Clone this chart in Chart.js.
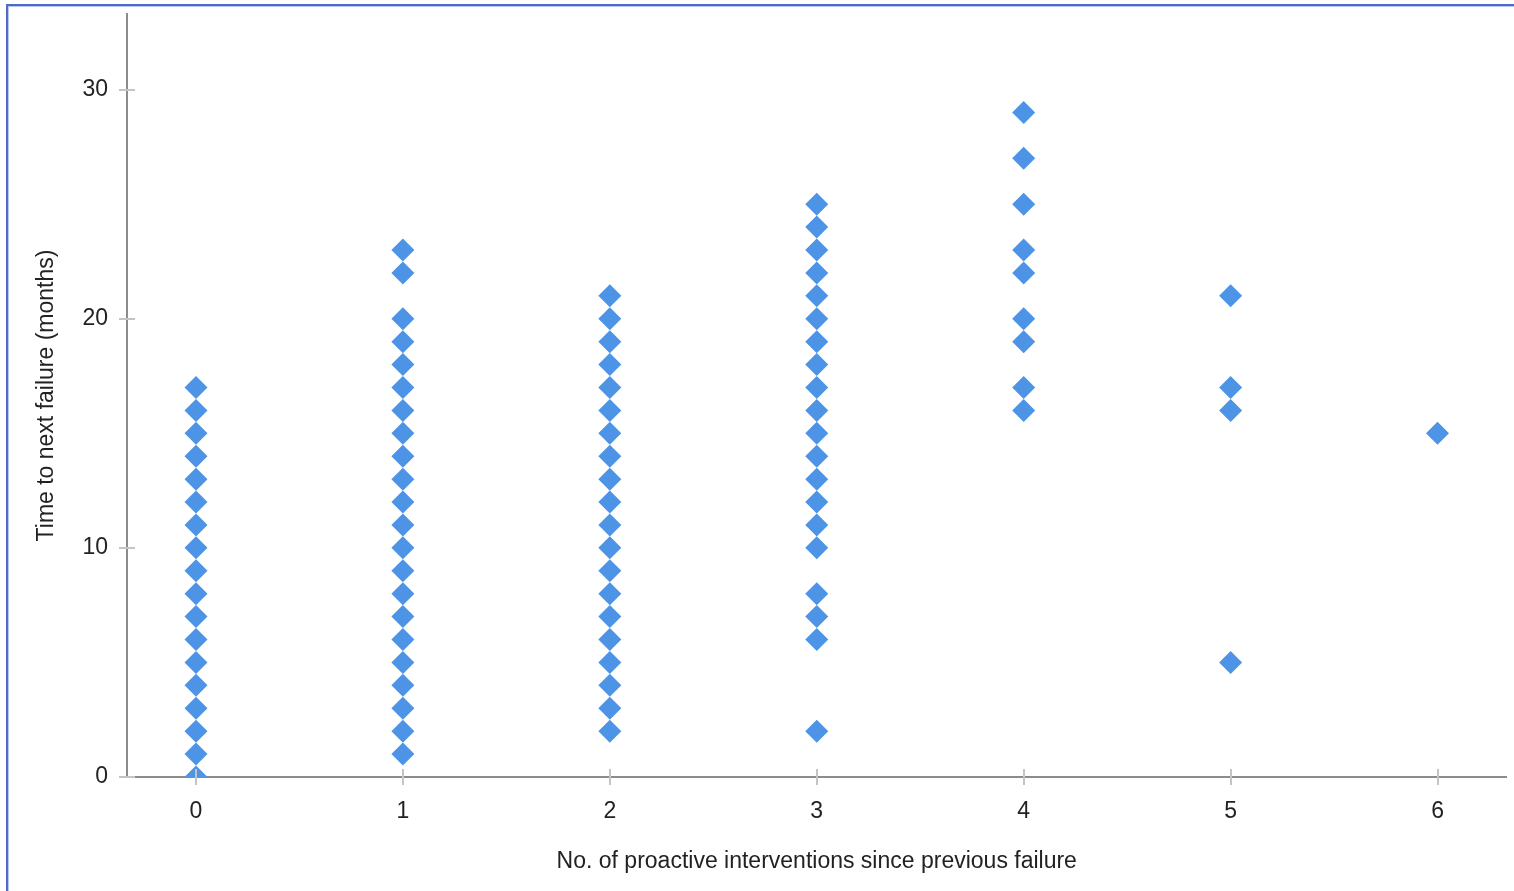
<!DOCTYPE html>
<html>
<head>
<meta charset="utf-8">
<script src="https://cdn.jsdelivr.net/npm/chart.js@4/dist/chart.umd.min.js"></script>
<style>
    html, body { margin: 0; padding: 0; background: #fff; overflow: hidden; }
    .frame {
        position: absolute; left: 6px; top: 4px; width: 1506px; height: 885px;
        border-top: 2px solid #4f6cc4; border-left: 2px solid #4f6cc4;
        box-shadow: inset 1px 1px 0 #b9c6ec;
    }
    .wrap { position: absolute; left: 0; top: 0; width: 1518px; height: 891px; }
</style>
</head>
<body>
<div class="frame"></div>
<div class="wrap"><canvas id="scatterChart"></canvas></div>
<script>
// Interventions since previous failure (x) and observed months to next failure (y)
const interventions = [0, 1, 2, 3, 4, 5, 6];
const monthsAt0 = [0, 1, 2, 3, 4, 5, 6, 7, 8, 9, 10, 11, 12, 13, 14, 15, 16, 17];
const monthsAt1 = [1, 2, 3, 4, 5, 6, 7, 8, 9, 10, 11, 12, 13, 14, 15, 16, 17, 18, 19, 20, 22, 23];
const monthsAt2 = [2, 3, 4, 5, 6, 7, 8, 9, 10, 11, 12, 13, 14, 15, 16, 17, 18, 19, 20, 21];
const monthsAt3 = [2, 6, 7, 8, 10, 11, 12, 13, 14, 15, 16, 17, 18, 19, 20, 21, 22, 23, 24, 25];
const monthsAt4 = [16, 17, 19, 20, 22, 23, 25, 27, 29];
const monthsAt5 = [5, 16, 17, 21];
const monthsAt6 = [15];
const yTicks = [0, 10, 20, 30];

const monthsByGroup = [monthsAt0, monthsAt1, monthsAt2, monthsAt3, monthsAt4, monthsAt5, monthsAt6];
const points = [];
interventions.forEach((x, i) => {
    monthsByGroup[i].forEach(y => points.push({ x: x, y: y }));
});

const FONT = '"Liberation Sans", Arial, sans-serif';

// small tick marks that cross the axis line, like the original
const crossTicks = {
    id: 'crossTicks',
    afterDraw(chart) {
        const { ctx, chartArea, scales } = chart;
        ctx.save();
        ctx.strokeStyle = '#c4c4c4';
        ctx.lineWidth = 2;
        interventions.forEach(v => {
            const px = Math.round(scales.x.getPixelForValue(v));
            ctx.beginPath();
            ctx.moveTo(px, chartArea.bottom - 8);
            ctx.lineTo(px, chartArea.bottom + 8);
            ctx.stroke();
        });
        yTicks.forEach(v => {
            const py = Math.round(scales.y.getPixelForValue(v));
            ctx.beginPath();
            ctx.moveTo(chartArea.left - 8, py);
            ctx.lineTo(chartArea.left + 8, py);
            ctx.stroke();
        });
        ctx.restore();
    }
};

new Chart(document.getElementById('scatterChart'), {
    type: 'scatter',
    data: {
        datasets: [{
            data: points,
            pointStyle: 'rectRot',
            pointRadius: 11.5,
            pointHoverRadius: 11.5,
            backgroundColor: '#4d94e6',
            borderColor: '#4d94e6',
            borderWidth: 0,
            clip: 0
        }]
    },
    options: {
        responsive: true,
        maintainAspectRatio: false,
        animation: false,
        layout: { padding: { left: 0, top: 14, right: 8, bottom: 0 } },
        plugins: {
            legend: { display: false },
            tooltip: { enabled: false }
        },
        scales: {
            x: {
                type: 'linear',
                min: -1 / 3,
                max: 6 + 1 / 3,
                afterFit: s => { s.height = 114; s.paddingLeft = 0; s.paddingRight = 0; },
                afterBuildTicks: s => { s.ticks = interventions.map(v => ({ value: v })); },
                grid: { display: false, drawTicks: false },
                border: { display: true, color: '#8c8c8c', width: 2 },
                ticks: { padding: 21, color: '#222', font: { family: FONT, size: 23 } },
                title: {
                    display: true,
                    text: 'No. of proactive interventions since previous failure',
                    color: '#222',
                    font: { family: FONT, size: 23, lineHeight: 1.2 },
                    padding: { top: 0, bottom: 16 }
                }
            },
            y: {
                type: 'linear',
                min: 0,
                max: 33.3,
                afterFit: s => { s.width = 127; s.paddingTop = 0; s.paddingBottom = 0; },
                afterBuildTicks: s => { s.ticks = yTicks.map(v => ({ value: v })); },
                grid: { display: false, drawTicks: false },
                border: { display: true, color: '#8c8c8c', width: 2 },
                ticks: { padding: 19, color: '#222', font: { family: FONT, size: 23 } },
                title: {
                    display: true,
                    text: 'Time to next failure (months)',
                    color: '#222',
                    font: { family: FONT, size: 23, lineHeight: 1.2 },
                    padding: { top: 33, bottom: 0 }
                }
            }
        }
    },
    plugins: [crossTicks]
});
</script>
</body>
</html>
